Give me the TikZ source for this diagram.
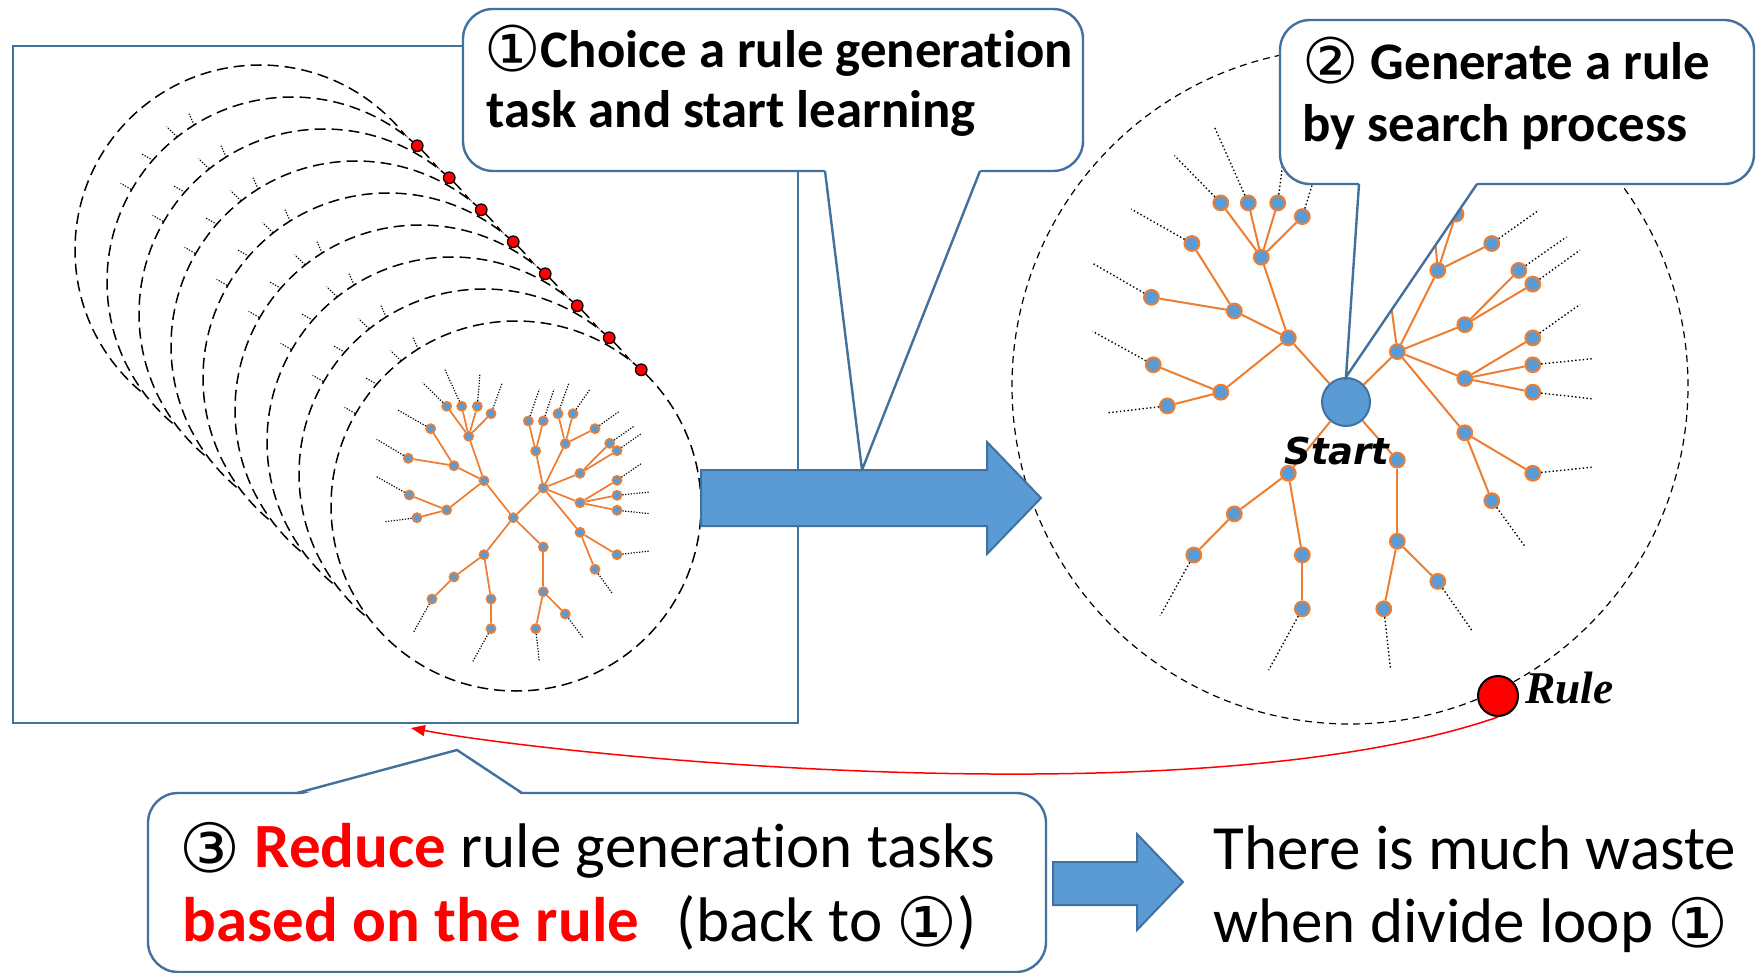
\documentclass[tikz,border=0pt]{standalone}
\usepackage{fontspec}
\setmainfont{Carlito}[Ligatures={NoCommon}]
\newfontfamily\dv{DejaVu Sans}
\newfontfamily\lserif{Liberation Serif}
\usetikzlibrary{arrows.meta}
\definecolor{cborder}{HTML}{41719C}
\definecolor{afill}{HTML}{5B9BD5}
\definecolor{orng}{HTML}{ED7D31}
\definecolor{nblue}{HTML}{5B9BD5}
\newcommand{\circA}[1]{\raisebox{-2pt}{\dv\mdseries\fontsize{31.5}{31.5}\selectfont #1}}
\newcommand{\circB}[1]{\raisebox{-2.5pt}{\dv\mdseries\fontsize{34}{34}\selectfont #1}}
\tikzset{
  lnode/.style={circle, fill=nblue, draw=orng, line width=0.8pt, inner sep=0pt, minimum size=4.6pt},
  ledge/.style={draw=orng, line width=0.85pt},
  ldot/.style={draw=black, line width=0.6pt, dash pattern=on 0.6pt off 0.8pt},
  rnode/.style={circle, fill=nblue, draw=orng, line width=1pt, inner sep=0pt, minimum size=7.4pt},
  redge/.style={draw=orng, line width=1pt},
  rdotl/.style={draw=black, line width=0.7pt, dash pattern=on 0.7pt off 1.2pt},
  lcirc/.style={circle, draw=black, fill=white, line width=0.75pt, dash pattern=on 5.5pt off 3pt, inner sep=0pt, minimum size=185pt},
  rcirc/.style={circle, draw=black, line width=0.6pt, dash pattern=on 3.5pt off 2.5pt, inner sep=0pt, minimum size=338pt},
  reddot/.style={circle, fill=red, draw=black, line width=0.6pt, inner sep=0pt, minimum size=5.8pt},
  callbox/.style={draw=cborder, line width=1.2pt, fill=white, rounded corners=15pt},
  callline/.style={draw=cborder, line width=1.2pt},
  blockarrow/.style={draw=cborder, line width=1pt, fill=afill},
  ctext/.style={font=\bfseries\fontsize{26.4}{30}\selectfont, inner sep=0pt, anchor=base west},
  btext/.style={font=\fontsize{31.5}{36}\selectfont, inner sep=0pt, anchor=base west},
  ltree/.pic={
    \node[lnode] (R) at (-2.7,11.7) {};
    \node[lnode] (A) at (-32,-25.3) {};
    \node[lnode] (A1) at (-47.3,-69.7) {};
    \node[lnode] (L1) at (-69.3,-99.7) {};
    \node[lnode] (L2) at (-54.3,-99.7) {};
    \node[lnode] (L3) at (-38.7,-99.7) {};
    \node[lnode] (L4) at (-25,-92.3) {};
    \node[lnode] (A2) at (-62,-40.3) {};
    \node[lnode] (L5) at (-85.3,-77.3) {};
    \node[lnode] (L6) at (-107.7,-47.7) {};
    \node[lnode] (A3) at (-69.3,4) {};
    \node[lnode] (L7) at (-106.7,-11) {};
    \node[lnode] (L8) at (-99,11.7) {};
    \node[lnode] (B) at (27.3,-18) {};
    \node[lnode] (B1) at (19.7,-55) {};
    \node[lnode] (L9) at (12.3,-85) {};
    \node[lnode] (L10) at (27.3,-85) {};
    \node[lnode] (B2) at (49.3,-62.3) {};
    \node[lnode] (L11) at (42,-92.3) {};
    \node[lnode] (L12) at (57,-92.3) {};
    \node[lnode] (L13) at (79,-77.3) {};
    \node[lnode] (B3) at (64,-32.7) {};
    \node[lnode] (L14) at (93.7,-62.7) {};
    \node[lnode] (L15) at (101,-55.3) {};
    \node[lnode] (B4) at (64,-3.3) {};
    \node[lnode] (L16) at (101,-25.7) {};
    \node[lnode] (L17) at (101,-10.7) {};
    \node[lnode] (L18) at (101,4.3) {};
    \node[lnode] (B5) at (64,26.3) {};
    \node[lnode] (L19) at (101,48.7) {};
    \node[lnode] (L20) at (79,63.3) {};
    \node[lnode] (C) at (27.3,41) {};
    \node[lnode] (C1) at (27.3,85.7) {};
    \node[lnode] (L21) at (19.7,122.7) {};
    \node[lnode] (L22) at (49.3,108) {};
    \node[lnode] (D) at (-32,48.7) {};
    \node[lnode] (D1) at (-62,71) {};
    \node[lnode] (L23) at (-84,93) {};
    \node[lnode] (D2) at (-25,93) {};
    \node[lnode] (L24) at (-25,122.7) {};
    \foreach \u/\v in {R/A,A/A1,A1/L1,A1/L2,A1/L3,A1/L4,A/A2,A2/L5,A2/L6,A/A3,A3/L7,A3/L8,
      R/B,B/B1,B1/L9,B1/L10,B/B2,B2/L11,B2/L12,B2/L13,B/B3,B3/L14,B3/L15,B/B4,B4/L16,B4/L17,B4/L18,
      B/B5,B5/L19,B5/L20,R/C,C/C1,C1/L21,C1/L22,R/D,D/D1,D1/L23,D/D2,D2/L24}
      \draw[ledge] (\u) -- (\v);
    \foreach \u/\x/\y in {L1/-93.3/-123.3,L2/-71.7/-137.7,L3/-36/-132.7,L4/-13.7/-123.3,
      L5/-118.3/-96,L6/-139.3/-66.7,L7/-139.3/-29.3,L8/-131/15.7,L9/23.3/-116.7,L10/38/-116.7,
      L11/53/-123.3,L12/74/-116.7,L13/103.3/-94.7,L14/118.3/-80,L15/125.7/-72.7,L16/125.7/-42.7,
      L17/134/-14,L18/134/7.7,L19/134/45,L20/96.7/88,L21/23.3/155.7,L22/67.3/132.3,
      L23/-102.7/126.7,L24/-43.3/155.7}
      \draw[ldot] (\u) -- (\x,\y);
  }
}
\begin{document}
\begin{tikzpicture}[x=0.5pt,y=-0.5pt]
\useasboundingbox (0,0) rectangle (1756,973);

% left frame
\draw[draw=cborder, line width=1pt] (13,46) rectangle (798,723);

% stack of task circles
\foreach \k in {0,...,8}{
  \pgfmathsetmacro\cx{260+32*\k}
  \pgfmathsetmacro\cy{250+32*\k}
  \node[lcirc] (task\k) at (\cx,\cy) {};
  \pic (t\k-) at (\cx,\cy) {ltree};
  \ifnum\k>0
    \pgfmathsetmacro\rx{\cx+125.2}
    \pgfmathsetmacro\ry{\cy-136.2}
    \node[reddot] (rd\k) at (\rx,\ry) {};
  \fi
}

% right search circle
\node[rcirc] (space) at (1350,386) {};

% right tree
\node[circle, fill=afill, draw=cborder, line width=1pt, inner sep=0pt, minimum size=24pt] (start) at (1346,402) {};
\node[rnode] (rA) at (1288.3,337.9) {};
\node[rnode] (rA1) at (1261.3,257.2) {};
\node[rnode] (rL1) at (1220.8,202.9) {};
\node[rnode] (rL2) at (1248.3,202.9) {};
\node[rnode] (rL3) at (1277.7,202.9) {};
\node[rnode] (rL4) at (1302.3,216.6) {};
\node[rnode] (rA2) at (1234.3,311) {};
\node[rnode] (rL5) at (1191.9,243.5) {};
\node[rnode] (rL6) at (1151.4,297.3) {};
\node[rnode] (rA3) at (1220.8,392.2) {};
\node[rnode] (rL7) at (1153.3,364.8) {};
\node[rnode] (rL8) at (1167.3,405.9) {};
\node[rnode] (rB) at (1397.3,351.6) {};
\coordinate (rB1) at (1385.7,264.3);
\node[rnode] (rB2) at (1437.8,270.4) {};
\coordinate (rL11) at (1432,205);
\node[rnode] (rL12) at (1456,214) {};
\node[rnode] (rL13) at (1491.8,243.5) {};
\node[rnode] (rB3) at (1464.8,324.7) {};
\node[rnode] (rL14) at (1518.8,270.4) {};
\node[rnode] (rL15) at (1532.8,284.1) {};
\node[rnode] (rB4) at (1464.8,378.5) {};
\node[rnode] (rL16) at (1532.8,337.9) {};
\node[rnode] (rL17) at (1532.8,364.8) {};
\node[rnode] (rL18) at (1532.8,392.2) {};
\node[rnode] (rB5) at (1464.8,432.8) {};
\node[rnode] (rL19) at (1532.8,473.3) {};
\node[rnode] (rL20) at (1491.8,500.7) {};
\node[rnode] (rC) at (1397.3,460.1) {};
\node[rnode] (rC1) at (1397.3,541.3) {};
\node[rnode] (rL21) at (1383.8,608.8) {};
\node[rnode] (rL22) at (1437.8,581.4) {};
\node[rnode] (rD) at (1288.3,473.3) {};
\node[rnode] (rD1) at (1234.3,513.9) {};
\node[rnode] (rL23) at (1193.8,555) {};
\node[rnode] (rD2) at (1302.3,555) {};
\node[rnode] (rL24) at (1302.3,608.8) {};
\foreach \u/\v in {start/rA,rA/rA1,rA1/rL1,rA1/rL2,rA1/rL3,rA1/rL4,rA/rA2,rA2/rL5,rA2/rL6,rA/rA3,rA3/rL7,rA3/rL8,
  start/rB,rB/rB1,rB/rB2,rB2/rL11,rB2/rL12,rB2/rL13,rB/rB3,rB3/rL14,rB3/rL15,rB/rB4,rB4/rL16,rB4/rL17,rB4/rL18,
  rB/rB5,rB5/rL19,rB5/rL20,start/rC,rC/rC1,rC1/rL21,rC1/rL22,start/rD,rD/rD1,rD1/rL23,rD/rD2,rD2/rL24}
  \draw[redge] (\u) -- (\v);
\foreach \u/\x/\y in {rL1/1174.5/155.7,rL2/1214.6/127.4,rL3/1284.5/150,rL4/1323/150,rL5/1131.1/209.1,
  rL6/1092.6/263.3,rL7/1092.6/331.3,rL8/1107/412.9,rL12/1480/170,rL13/1539/210,rL14/1566.5/236.9,
  rL15/1580/250.1,rL16/1580/304.4,rL17/1592.1/358.7,rL18/1592.1/398.8,rL19/1592.1/467.2,
  rL20/1525.6/547.4,rL21/1390.5/669.2,rL22/1471.6/630,rL23/1160.1/615.9,rL24/1268.6/670.1}
  \draw[rdotl] (\u) -- (\x,\y);

\node[font=\dv\bfseries\itshape\fontsize{18.5}{22}\selectfont, inner sep=0pt] (startlbl) at (1337,451) {Start};

\node[circle, fill=red, draw=black, line width=1pt, inner sep=0pt, minimum size=20pt] (rule) at (1498,696) {};
\node[font=\lserif\bfseries\itshape\fontsize{22.7}{26}\selectfont, inner sep=0pt, anchor=base west] (rulelbl) at (1525,703) {Rule};

% callout 1
\draw[callbox] (463,9) rectangle (1083,171);
\coordinate (c1tip) at (862,470);
\fill[white] (824.6,168) -- (c1tip) -- (981.2,168) -- cycle;
\draw[callline] (825,171) -- (c1tip) -- (980,171);
\node[ctext] (c1a) at (484,67.5) {\circA{①}Choice a rule generation};
\node[ctext] (c1b) at (486,128) {task and start learning};

% callout 2
\draw[callbox] (1280,20) rectangle (1754,184);
\fill[white] (1359.3,181) -- (start.north) -- (1478.5,181) -- cycle;
\draw[callline] (1359,184) -- (start.north) -- (1477,184);
\node[ctext] (c2a) at (1302,80) {\circA{②} Generate a rule};
\node[ctext] (c2b) at (1302,141.5) {by search process};

% big arrow
\draw[blockarrow] (701,470) -- (987,470) -- (987,442) -- (1041,498) -- (987,554) -- (987,526) -- (701,526) -- cycle;

% feedback curve
\coordinate (fb) at (411,728);
\draw[red, line width=0.75pt, -{Triangle[length=7pt,width=5.5pt]}] (rule.south) .. controls (1197,821) and (560,756) .. (fb);

% callout 3
\draw[callbox] (148,793) rectangle (1046,972);
\coordinate (c3tip) at (457,750);
\fill[white] (296.2,796) -- (c3tip) -- (523.5,796) -- cycle;
\draw[callline] (297,793) -- (c3tip) -- (522,793);
\node[btext] (c3a) at (179,867) {\circB{③} {\color{red}\bfseries Reduce} rule generation tasks};
\node[btext] (c3b) at (182,941) {{\color{red}\bfseries based on the rule}\hspace{0.6em}(back to \circB{①})};

% small arrow
\draw[blockarrow] (1053,862) -- (1137,862) -- (1137,834) -- (1183,882) -- (1137,930) -- (1137,905) -- (1053,905) -- cycle;

\node[btext] (w1) at (1213,869) {There is much waste};
\node[btext] (w2) at (1213,942) {when divide loop \circB{①}};
\end{tikzpicture}
\end{document}
